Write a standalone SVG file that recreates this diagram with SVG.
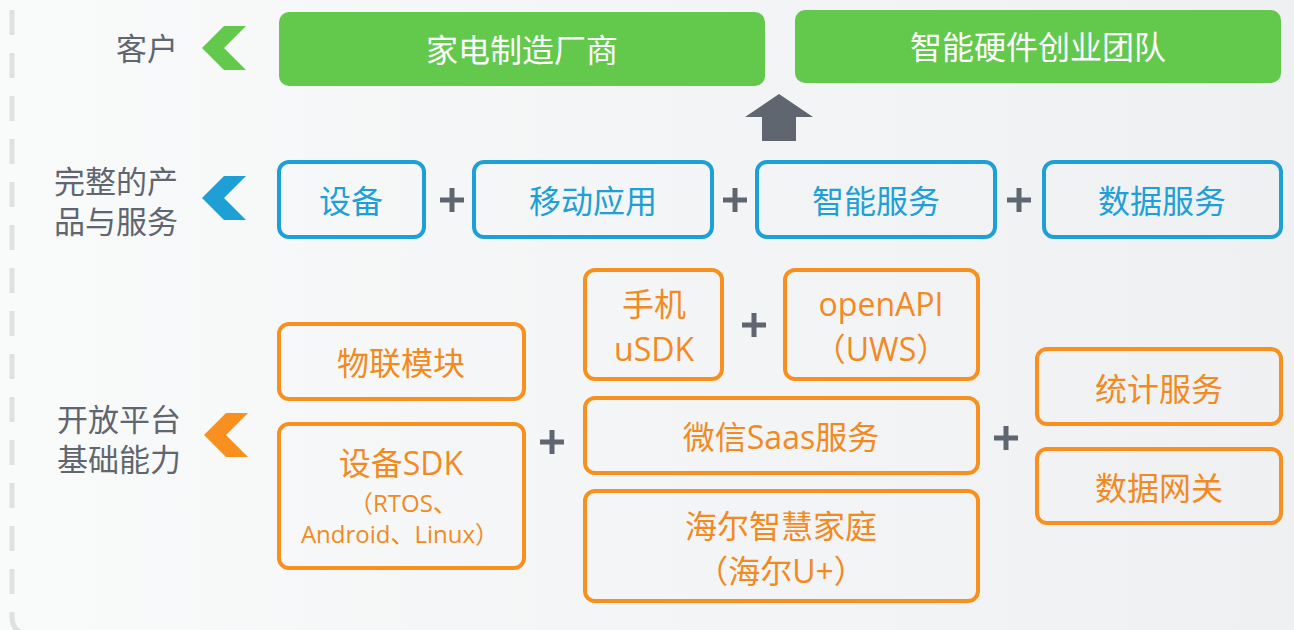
<svg xmlns="http://www.w3.org/2000/svg" width="1294" height="630" viewBox="0 0 1294 630">
<defs>
<linearGradient id="bg" x1="0" y1="0" x2="1" y2="0">
<stop offset="0" stop-color="#f9fafa"/>
<stop offset="1" stop-color="#eef0f2"/>
</linearGradient>
</defs>
<style>
text{font-family:"Open Sans","Noto Sans CJK SC",sans-serif;text-anchor:middle;dominant-baseline:central}
.lbl{fill:#5f6670;font-size:31px}
.g rect{fill:#62c94d}
.g text{fill:#ffffff;font-size:32px}
.b rect{fill:none;stroke:#1ea0d7;stroke-width:4}
.b text{fill:#1ea0d7;font-size:32px}
.o rect{fill:none;stroke:#f7901f;stroke-width:4}
.o text{fill:#f28a1f;font-size:32px}
.o text.s{font-size:24px}
.plus{stroke:#5f6670;stroke-width:5;fill:none}
</style>
<rect width="1294" height="630" fill="url(#bg)"/>
<path d="M12 10 V616 Q12 628 20 632" fill="none" stroke="#e0e0e0" stroke-width="5" stroke-dasharray="25 18"/>

<g id="labels">
<text class="lbl" x="147" y="48">客户</text>
<text class="lbl" x="116" y="181">完整的产</text>
<text class="lbl" x="116" y="221">品与服务</text>
<text class="lbl" x="119" y="419">开放平台</text>
<text class="lbl" x="119" y="459">基础能力</text>
<polygon points="202,48 224,26 246,26 224,48 246,70 224,70" fill="#62c94d"/>
<polygon points="202,198 224,176 246,176 224,198 246,220 224,220" fill="#1ea0d7"/>
<polygon points="204,435 226,413 248,413 226,435 248,457 226,457" fill="#f7901f"/>
</g>

<g id="customer1" class="g"><rect x="279" y="12" width="486" height="74" rx="10"/><text x="522" y="49">家电制造厂商</text></g>
<g id="customer2" class="g"><rect x="795" y="10" width="486" height="73" rx="10"/><text x="1038" y="46">智能硬件创业团队</text></g>

<g id="device" class="b"><rect x="279" y="162" width="145" height="75" rx="10"/><text x="351" y="200">设备</text></g>
<g id="mobile" class="b"><rect x="474" y="162" width="238" height="75" rx="10"/><text x="593" y="200">移动应用</text></g>
<g id="smart" class="b"><rect x="757" y="162" width="238" height="75" rx="10"/><text x="876" y="200">智能服务</text></g>
<g id="data" class="b"><rect x="1044" y="162" width="237" height="75" rx="10"/><text x="1162" y="200">数据服务</text></g>

<g id="iot" class="o"><rect x="279" y="324" width="245" height="75" rx="10"/><text x="401" y="362">物联模块</text></g>
<g id="devsdk" class="o"><rect x="279" y="424" width="245" height="144" rx="10"/><text x="401" y="462">设备SDK</text><text class="s" x="403" y="502">（RTOS、</text><text class="s" x="400" y="533">Android、Linux）</text></g>
<g id="usdk" class="o"><rect x="585" y="270" width="137" height="109" rx="10"/><text x="654" y="303">手机</text><text x="654" y="348">uSDK</text></g>
<g id="openapi" class="o"><rect x="785" y="270" width="193" height="109" rx="10"/><text x="881" y="303">openAPI</text><text x="881" y="348">（UWS）</text></g>
<g id="wechat" class="o"><rect x="585" y="398" width="393" height="75" rx="10"/><text x="781" y="436">微信Saas服务</text></g>
<g id="haier" class="o"><rect x="585" y="491" width="393" height="110" rx="10"/><text x="781" y="525">海尔智慧家庭</text><text x="781" y="570">（海尔U+）</text></g>
<g id="stats" class="o"><rect x="1037" y="349" width="244" height="75" rx="10"/><text x="1159" y="388">统计服务</text></g>
<g id="gateway" class="o"><rect x="1037" y="449" width="244" height="74" rx="10"/><text x="1159" y="487">数据网关</text></g>

<g id="connectors">
<polygon points="779,94 813,117 796,117 796,141 762,141 762,117 745,117" fill="#5f6670"/>
<path class="plus" d="M440 200 h24 M452 188 v24"/>
<path class="plus" d="M723 200 h24 M735 188 v24"/>
<path class="plus" d="M1007 200 h24 M1019 188 v24"/>
<path class="plus" d="M540 442 h24 M552 430 v24"/>
<path class="plus" d="M742 325 h24 M754 313 v24"/>
<path class="plus" d="M994 438 h24 M1006 426 v24"/>
</g>
</svg>
